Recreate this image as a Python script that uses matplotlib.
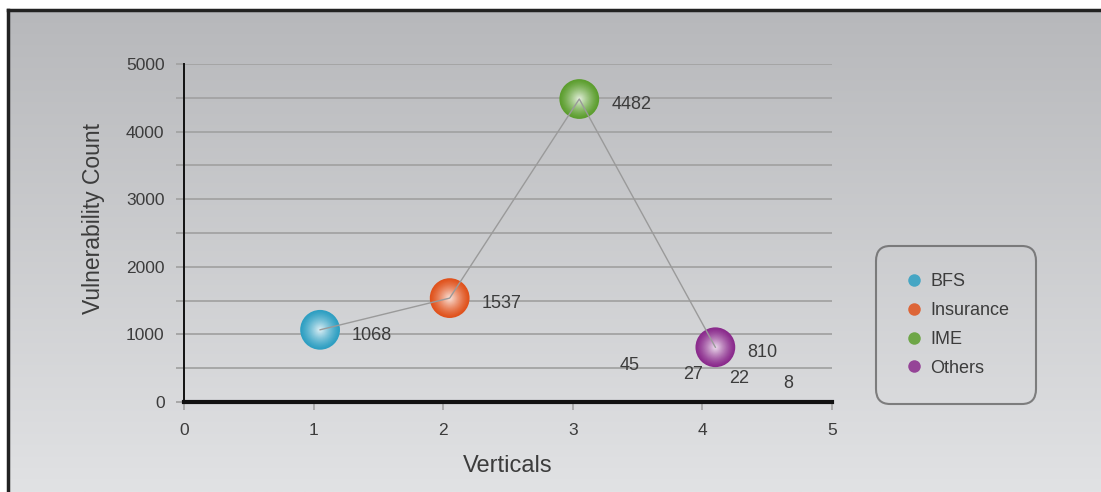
import numpy as np
import matplotlib.pyplot as plt
from matplotlib.colors import to_rgb
from matplotlib.lines import Line2D

plt.rcParams['font.family'] = ['Liberation Sans', 'DejaVu Sans']

# verticals and their vulnerability counts
verticals = ['BFS', 'Insurance', 'IME', 'Others']
x_pos = [1.05, 2.05, 3.05, 4.1]
counts = [1068, 1537, 4482, 810]
colors = ['#2e9fc2', '#e0521c', '#5c9e2e', '#8a2a8c']

# small counts shown as text only
small_counts = [45, 27, 22, 8]
small_x = [3.44, 3.93, 4.28, 4.66]
small_y = [533, 400, 355, 281]

text_col = '#3c3c3c'

fig = plt.figure(figsize=(11.01, 4.92), dpi=100)

# grey gradient backdrop with dark frame on top and left
bg = fig.add_axes([8 / 1101, 0, 1 - 8 / 1101, 1 - 10 / 492], zorder=-10)
top = np.array(to_rgb('#b7b8bb'))
bot = np.array(to_rgb('#e1e2e4'))
t = np.linspace(0, 1, 256)[:, None]
grad = top * (1 - t[..., None]) + bot * t[..., None]
grad = np.repeat(grad, 2, axis=1)
bg.imshow(grad, aspect='auto', extent=[0, 1, 0, 1])
bg.set_xlim(0, 1)
bg.set_ylim(0, 1)
bg.set_xticks([])
bg.set_yticks([])
for side in ['right', 'bottom']:
    bg.spines[side].set_visible(False)
for side in ['left', 'top']:
    bg.spines[side].set_color('#222222')
    bg.spines[side].set_linewidth(2.5)

ax = fig.add_axes([184 / 1101, 1 - 402 / 492, 648 / 1101, 338 / 492])
ax.set_facecolor('none')
ax.set_xlim(0, 5)
ax.set_ylim(0, 5000)


def ball(ax, x, y, color, size, z=3):
    base = np.array(to_rgb(color))
    light = base + (1 - base) * 0.82
    n = 24
    for k in range(n):
        f = 1 - k / n
        c = base * (1 - (k / (n - 1)) ** 1.3) + light * (k / (n - 1)) ** 1.3
        ax.scatter([x], [y], s=size * f ** 2, color=c, edgecolors='none',
                   zorder=z, clip_on=False)


for x, y, c in zip(x_pos, counts, colors):
    ball(ax, x, y, c, 820)

ax.plot(x_pos, counts, color='#9a9a9a', lw=1, zorder=5)

for x, y in zip(x_pos, counts):
    ax.annotate(str(y), (x, y), xytext=(23, -4), textcoords='offset points',
                ha='left', va='center', fontsize=13, color=text_col, zorder=6)

for v, x, y in zip(small_counts, small_x, small_y):
    ax.text(x, y, str(v), ha='center', va='center', fontsize=13,
            color=text_col, zorder=6)

ax.set_yticks(np.arange(0, 5001, 500))
ax.set_yticklabels([str(v) if v % 1000 == 0 else '' for v in range(0, 5001, 500)])
ax.set_xticks(range(6))
ax.yaxis.grid(True, color='#a3a3a3', lw=1.3)
ax.set_axisbelow(True)
ax.tick_params(axis='y', length=6, color='#a3a3a3', width=1.3, pad=8,
               labelsize=12.5, labelcolor=text_col)
ax.tick_params(axis='x', length=6, color='#a3a3a3', width=1.2, pad=9,
               labelsize=12.5, labelcolor=text_col)
for side in ['top', 'right']:
    ax.spines[side].set_visible(False)
ax.spines['left'].set_color('#111111')
ax.spines['left'].set_linewidth(1.4)
ax.spines['bottom'].set_color('#111111')
ax.spines['bottom'].set_linewidth(3)

ax.set_xlabel('Verticals', fontsize=17, color=text_col, labelpad=12)
ax.set_ylabel('Vulnerability Count', fontsize=16.5, color=text_col)
ax.yaxis.set_label_coords(-0.122, 0.544)

handles = [Line2D([], [], ls='none', marker='o', markersize=9,
                  markerfacecolor=c, markeredgecolor='none', alpha=0.85)
           for c in colors]
leg = fig.legend(handles, verticals, loc='center',
                 bbox_to_anchor=(956 / 1101, 1 - 325 / 492),
                 fontsize=13, frameon=True, fancybox=True, borderpad=1.5,
                 labelspacing=0.65, handletextpad=0.3, handlelength=1.2,
                 borderaxespad=0)
frame = leg.get_frame()
frame.set_boxstyle('round', pad=0, rounding_size=0.8)
frame.set_facecolor('none')
frame.set_edgecolor('#666666')
frame.set_linewidth(1.5)
for txt in leg.get_texts():
    txt.set_color(text_col)

fig.savefig('out.png', dpi=100)
